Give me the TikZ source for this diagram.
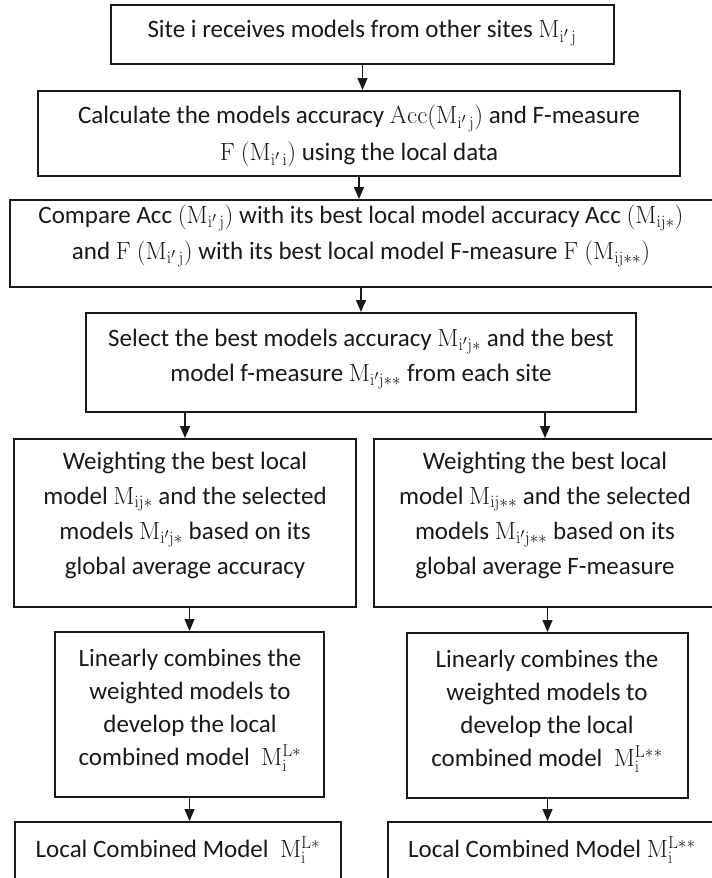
\documentclass[tikz,border=0pt]{standalone}
\usepackage[no-math]{fontspec}
\setmainfont{Carlito}
\usetikzlibrary{arrows.meta}
\definecolor{ink}{RGB}{25,25,25}
\tikzset{
  box/.style={draw=ink, line width=2pt, inner sep=0pt},
  txt/.style={text=ink, align=center, inner sep=0pt},
  flow/.style={draw=ink, line width=1.3pt, -{Triangle[length=12pt,width=10pt]}},
}
% model symbols, set a little larger than the running text
\newcommand\mth[1]{{\fontsize{27}{27}\selectfont$#1$}}
\newcommand\Msub[1]{\mathrm{M}_{#1}}
\newcommand\Mloc[1]{\mathrm{M}_{\mathrm{i}}^{\mathrm{L}#1}}
\newcommand\ip{\mathrm{i}'}

\begin{document}
\begin{tikzpicture}[x=1pt,y=-1pt]
\useasboundingbox (0,0) rectangle (712,878);
\clip (0,0) rectangle (712,878);

% boxes
\node[box, minimum width=503pt, minimum height=59pt] (b1) at (362.5,34.5) {};
\node[box, minimum width=642pt, minimum height=85pt] (b2) at (359,133.5) {};
\node[box, minimum width=706pt, minimum height=87pt] (b3) at (363,243.5) {};
\node[box, minimum width=550pt, minimum height=99pt] (b4) at (361,362.5) {};
\node[box, minimum width=342pt, minimum height=168pt] (b5L) at (185,523) {};
\node[box, minimum width=342pt, minimum height=168pt] (b5R) at (545,523) {};
\node[box, minimum width=269pt, minimum height=165pt] (b6L) at (189.5,714.5) {};
\node[box, minimum width=281pt, minimum height=165pt] (b6R) at (547.5,715.5) {};
\node[box, minimum width=326pt, minimum height=78pt] (b7L) at (178,861) {};
\node[box, minimum width=328pt, minimum height=78pt] (b7R) at (552,861) {};

% texts
\node[txt, font=\fontsize{25}{37}\selectfont] (t1) at (362,33)
  {Site i receives models from other sites \mth{\Msub{\ip\,\mathrm{j}}}};
\node[txt, font=\fontsize{25}{37}\selectfont] (t2) at (359,136)
  {Calculate the models accuracy \mth{\mathrm{Acc(}\Msub{\ip\,\mathrm{j}}\mathrm{)}} and F-measure\\
   \mth{\mathrm{F\ (}\Msub{\ip\,\mathrm{i}}\mathrm{)}} using the local data};
\node[txt, font=\fontsize{25}{36}\selectfont] (t3) at (361,236)
  {Compare Acc \mth{(\Msub{\ip\,\mathrm{j}})} with its best local model accuracy Acc \mth{(\Msub{\mathrm{ij}*})}\\
   and \mth{\mathrm{F\ (}\Msub{\ip\,\mathrm{j}}\mathrm{)}} with its best local model F-measure \mth{\mathrm{F\ (}\Msub{\mathrm{ij}**}\mathrm{)}}};
\node[txt, font=\fontsize{25}{35}\selectfont] (t4) at (361,359)
  {Select the best models accuracy \mth{\Msub{\ip\mathrm{j}*}} and the best\\
   model f-measure \mth{\Msub{\ip\mathrm{j}**}} from each site};
\node[txt, font=\fontsize{25}{35}\selectfont] (t5L) at (185,515)
  {Weighting the best local\\
   model \mth{\Msub{\mathrm{ij}*}} and the selected\\
   models \mth{\Msub{\ip\mathrm{j}*}} based on its\\
   global average accuracy};
\node[txt, font=\fontsize{25}{35}\selectfont] (t5R) at (545,515)
  {Weighting the best local\\
   model \mth{\Msub{\mathrm{ij}**}} and the selected\\
   models \mth{\Msub{\ip\mathrm{j}**}} based on its\\
   global average F-measure};
\node[txt, font=\fontsize{25}{33}\selectfont] (t6L) at (190,710)
  {Linearly combines the\\
   weighted models to\\
   develop the local\\
   combined model\ \ \mth{\Mloc{*}}};
\node[txt, font=\fontsize{25}{33}\selectfont] (t6R) at (547,711)
  {Linearly combines the\\
   weighted models to\\
   develop the local\\
   combined model\ \ \mth{\Mloc{**}}};
\node[txt, font=\fontsize{25}{33}\selectfont] (t7L) at (178,850)
  {Local Combined Model\ \ \mth{\Mloc{*}}};
\node[txt, font=\fontsize{25}{33}\selectfont] (t7R) at (552,850)
  {Local Combined Model \mth{\Mloc{**}}};

% connectors
\draw[flow] (b1.south) -- (b1.south |- b2.north);
\draw[flow] (b2.south) -- (b2.south |- b3.north);
\draw[flow] (b4.north |- b3.south) -- (b4.north);
\draw[flow] (b5L.north |- b4.south) -- (b5L.north);
\draw[flow] (b5R.north |- b4.south) -- (b5R.north);
\draw[flow] (b6L.north |- b5L.south) -- (b6L.north);
\draw[flow] (b6R.north |- b5R.south) -- (b6R.north);
\draw[flow] (b6L.south) -- (b6L.south |- b7L.north);
\draw[flow] (b6R.south) -- (b6R.south |- b7R.north);
\end{tikzpicture}
\end{document}
